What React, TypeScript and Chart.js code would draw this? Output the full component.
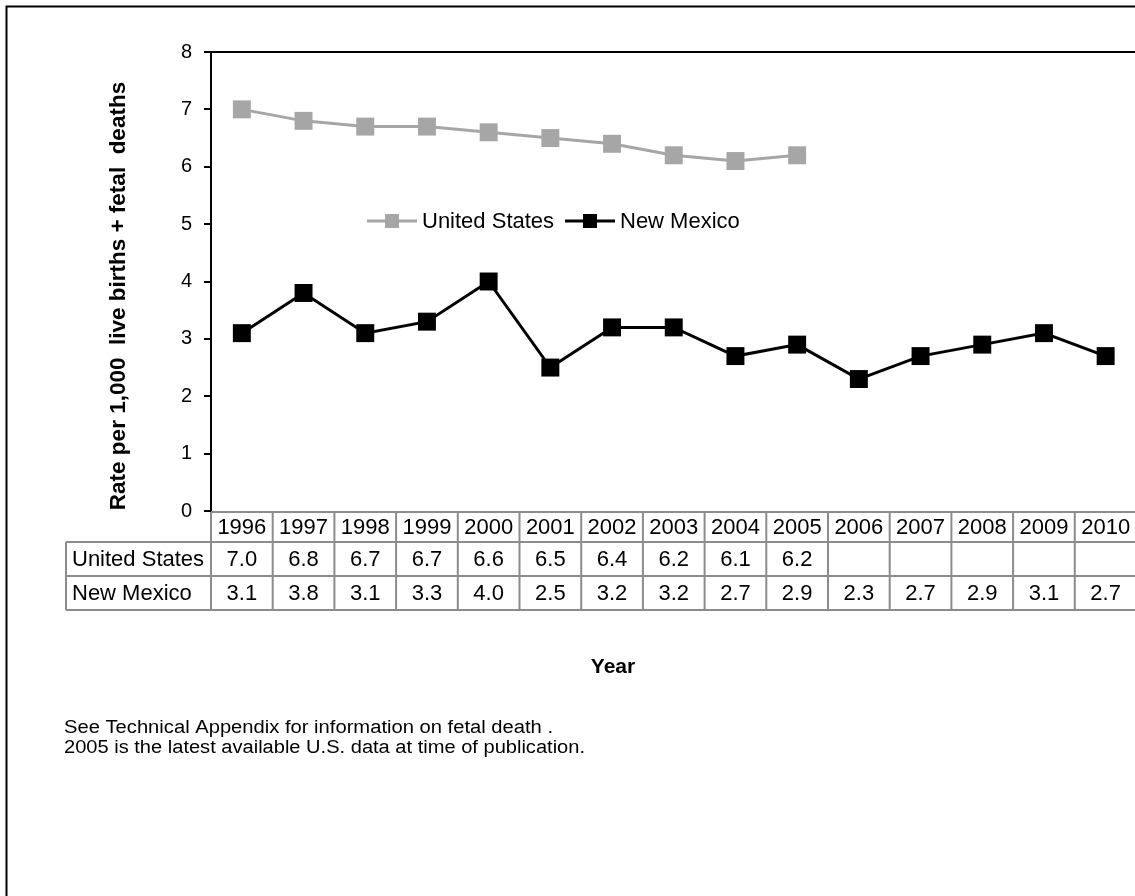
import React, { useEffect, useRef } from "react";
import { Chart, registerables } from "chart.js";

Chart.register(...registerables);

const years = ["1996", "1997", "1998", "1999", "2000", "2001", "2002", "2003", "2004", "2005", "2006", "2007", "2008", "2009", "2010"];
const usRates: (number | null)[] = [7.0, 6.8, 6.7, 6.7, 6.6, 6.5, 6.4, 6.2, 6.1, 6.2, null, null, null, null, null];
const nmRates: (number | null)[] = [3.1, 3.8, 3.1, 3.3, 4.0, 2.5, 3.2, 3.2, 2.7, 2.9, 2.3, 2.7, 2.9, 3.1, 2.7];
const seriesNames = ["United States", "New Mexico"];
const seriesColors = ["#a6a6a6", "#000000"];
const yMin = 0;
const yMax = 8;
const yStep = 1;
const yTitle = "Rate per 1,000  live births + fetal  deaths";
const xTitle = "Year";
const notes = [
  "See Technical Appendix for information on fetal death .",
  "2005 is the latest available U.S. data at time of publication.",
];

const FONT = "'Liberation Sans', Arial, sans-serif";
const CANVAS_W = 1140;
const CANVAS_H = 896;

const decorPlugin = {
  id: "decor",
  beforeDraw(chart: any) {
    const ctx = chart.ctx;
    ctx.save();
    ctx.fillStyle = "#ffffff";
    ctx.fillRect(0, 0, chart.width, chart.height);
    ctx.strokeStyle = "#000";
    ctx.lineWidth = 2;
    ctx.beginPath();
    ctx.moveTo(6.5, CANVAS_H + 5);
    ctx.lineTo(6.5, 6.5);
    ctx.lineTo(CANVAS_W + 5, 6.5);
    ctx.stroke();
    ctx.restore();
  },
  afterDraw(chart: any) {
    const ctx = chart.ctx;
    const area = chart.chartArea;
    const xs = chart.scales.x;
    ctx.save();
    ctx.strokeStyle = "#000";
    ctx.lineWidth = 2;
    ctx.beginPath();
    ctx.moveTo(area.left - 1, area.top);
    ctx.lineTo(CANVAS_W + 5, area.top);
    ctx.stroke();

    // legend
    ctx.font = `22px ${FONT}`;
    ctx.textBaseline = "middle";
    ctx.textAlign = "left";
    const legendX = [367, 565];
    const legendY = 221;
    chart.data.datasets.forEach((ds: any, i: number) => {
      const x0 = legendX[i];
      ctx.strokeStyle = ds.borderColor;
      ctx.lineWidth = 3;
      ctx.beginPath();
      ctx.moveTo(x0, legendY);
      ctx.lineTo(x0 + 50, legendY);
      ctx.stroke();
      ctx.fillStyle = ds.backgroundColor;
      ctx.fillRect(x0 + 18, legendY - 7, 14, 14);
      ctx.fillStyle = "#000";
      ctx.fillText(ds.label, x0 + 55, legendY + 1);
    });

    // data table
    const n = years.length;
    const colW = (area.right - area.left) / n;
    const rowY = [512, 542, 576, 610];
    const labelLeft = 66;
    ctx.strokeStyle = "#8c8c8c";
    ctx.lineWidth = 2;
    ctx.beginPath();
    ctx.moveTo(area.left, rowY[0]);
    ctx.lineTo(CANVAS_W + 5, rowY[0]);
    for (let r = 1; r < rowY.length; r++) {
      ctx.moveTo(labelLeft, rowY[r]);
      ctx.lineTo(CANVAS_W + 5, rowY[r]);
    }
    for (let i = 0; i <= n; i++) {
      const bx = xs.getPixelForValue(Math.min(i, n - 1)) + (i === n ? colW / 2 : -colW / 2);
      ctx.moveTo(bx, rowY[0]);
      ctx.lineTo(bx, rowY[3]);
    }
    ctx.moveTo(labelLeft, rowY[1]);
    ctx.lineTo(labelLeft, rowY[3]);
    ctx.stroke();

    ctx.fillStyle = "#000";
    ctx.font = `22px ${FONT}`;
    ctx.textBaseline = "middle";
    ctx.textAlign = "center";
    const rowsData = [usRates, nmRates];
    for (let i = 0; i < n; i++) {
      const cx = xs.getPixelForValue(i);
      ctx.fillText(years[i], cx, (rowY[0] + rowY[1]) / 2 + 1);
      rowsData.forEach((vals, r) => {
        const v = vals[i];
        if (v !== null && v !== undefined) {
          ctx.fillText(v.toFixed(1), cx, (rowY[r + 1] + rowY[r + 2]) / 2 + 1);
        }
      });
    }
    ctx.textAlign = "left";
    seriesNames.forEach((name, r) => {
      ctx.fillText(name, labelLeft + 6, (rowY[r + 1] + rowY[r + 2]) / 2 + 1);
    });

    // y axis title
    ctx.save();
    ctx.translate(119, 296);
    ctx.rotate(-Math.PI / 2);
    ctx.font = `bold 22.5px ${FONT}`;
    ctx.textAlign = "center";
    ctx.textBaseline = "middle";
    ctx.fillText(yTitle, 0, 0);
    ctx.restore();

    // x axis title
    ctx.font = `bold 21px ${FONT}`;
    ctx.textAlign = "center";
    ctx.textBaseline = "middle";
    ctx.fillText(xTitle, 613, 667);

    // footnotes (condensed)
    ctx.font = `18px ${FONT}`;
    ctx.textAlign = "left";
    const noteWidths = [489, 521];
    const noteY = [728, 748];
    notes.forEach((t, i) => {
      const w = ctx.measureText(t).width;
      const sx = noteWidths[i] / w;
      ctx.save();
      ctx.translate(64, noteY[i]);
      ctx.scale(sx, 1);
      ctx.fillText(t, 0, 0);
      ctx.restore();
    });
    ctx.restore();
  },
};

export default function App() {
  const ref = useRef<HTMLCanvasElement | null>(null);
  useEffect(() => {
    if (!ref.current) return;
    const chart = new Chart(ref.current, {
      type: "line",
      data: {
        labels: years,
        datasets: [
          {
            label: seriesNames[0],
            data: usRates,
            borderColor: seriesColors[0],
            backgroundColor: seriesColors[0],
            borderWidth: 3,
            pointStyle: "rect",
            pointRadius: 12.7,
            pointBorderWidth: 0,
            pointBackgroundColor: seriesColors[0],
            tension: 0,
            spanGaps: false,
            clip: false,
          } as any,
          {
            label: seriesNames[1],
            data: nmRates,
            borderColor: seriesColors[1],
            backgroundColor: seriesColors[1],
            borderWidth: 3,
            pointStyle: "rect",
            pointRadius: 12.7,
            pointBorderWidth: 0,
            pointBackgroundColor: seriesColors[1],
            tension: 0,
            clip: false,
          } as any,
        ],
      },
      options: {
        responsive: false,
        animation: false,
        devicePixelRatio: 1,
        layout: { autoPadding: false, padding: { top: 52, bottom: CANVAS_H - 511, left: 0, right: CANVAS_W - 1136.5 } },
        plugins: { legend: { display: false }, tooltip: { enabled: false }, title: { display: false } },
        scales: {
          x: { type: "category", display: false, offset: true },
          y: {
            min: yMin,
            max: yMax,
            ticks: { stepSize: yStep, color: "#000", font: { family: FONT, size: 20 }, padding: 12 },
            grid: { drawOnChartArea: false, tickLength: 7, color: "#000", lineWidth: 2 },
            border: { color: "#000", width: 2 },
            afterFit: (scale: any) => {
              scale.width = 211;
            },
          },
        },
      } as any,
      plugins: [decorPlugin],
    });
    return () => chart.destroy();
  }, []);
  return (
    <div style={{ position: "fixed", left: 0, top: 0, width: 1135, height: 896, overflow: "hidden", background: "#fff" }}>
      <canvas ref={ref} width={CANVAS_W} height={CANVAS_H} style={{ display: "block" }} />
    </div>
  );
}
